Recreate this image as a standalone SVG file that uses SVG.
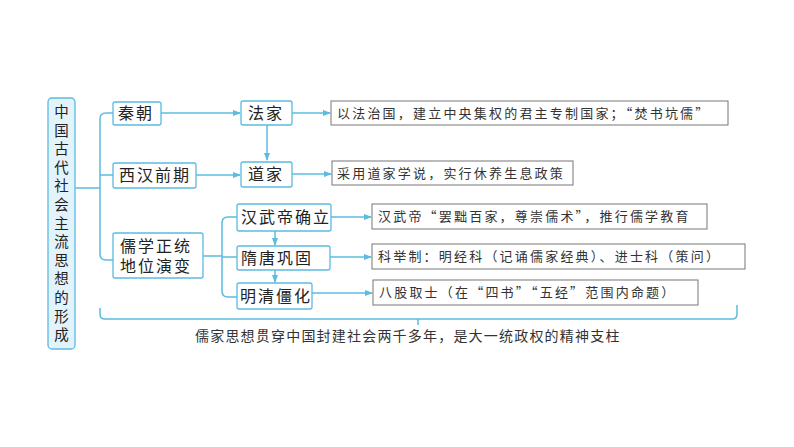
<svg xmlns="http://www.w3.org/2000/svg" width="794" height="447" viewBox="0 0 794 447">
<style>
.n{fill:#fff;stroke:#5bbbe0;stroke-width:1.3}
.g{fill:#fff;stroke:#777;stroke-width:1}
.t{font-family:"Noto Sans CJK SC",sans-serif;font-size:16px;fill:#222;letter-spacing:2px}
.v{font-family:"Noto Sans CJK SC",sans-serif;font-size:14.5px;fill:#222}
.s{font-family:"Noto Sans CJK SC",sans-serif;font-size:13px;fill:#333;letter-spacing:2.2px}
.c{fill:none;stroke:#5bbbe0;stroke-width:1.5}
</style>
<defs><marker id="a" markerWidth="8" markerHeight="8" refX="7" refY="4" orient="auto" markerUnits="userSpaceOnUse"><path d="M0,1 L8,4 L0,7 Z" fill="#5bbbe0"/></marker></defs>
<rect width="794" height="447" fill="#fff"/>
<g id="connectors">
<path class="c" d="M75,188 H100 M106,113 H113 M100,119 Q100,113 106,113 M100,119 V254 Q100,260 106,260 H113 M100,175 H113"/>
<path class="c" d="M203,256 H222 M228,217 H237 M222,223 Q222,217 228,217 M222,223 V291 Q222,297 228,297 H237 M222,257 H237"/>
<path class="c" marker-end="url(#a)" d="M161,113 H240"/>
<path class="c" marker-end="url(#a)" d="M292,113 H330"/>
<path class="c" marker-end="url(#a)" d="M196,175 H240"/>
<path class="c" marker-end="url(#a)" d="M292,174 H331"/>
<path class="c" marker-end="url(#a)" d="M267,125 V160"/>
<path class="c" marker-end="url(#a)" d="M331,217 H371"/>
<path class="c" marker-end="url(#a)" d="M330,257 H371"/>
<path class="c" marker-end="url(#a)" d="M312,293 H372"/>
<path class="c" marker-end="url(#a)" d="M275,231 V245"/>
<path class="c" marker-end="url(#a)" d="M275,270 V282"/>
<path class="c" d="M100,308 V314 Q100,319 105,319 H732 Q737,319 737,314 V305 M418,319 V325"/>
</g>
<g id="root"><rect x="48" y="98" width="27" height="251" rx="4" fill="#e3f3fb" stroke="#5bbbe0" stroke-width="1.3"/>
<text class="v" x="61.5" y="117" text-anchor="middle"><tspan x="61.5">中</tspan><tspan x="61.5" dy="18.6">国</tspan><tspan x="61.5" dy="18.6">古</tspan><tspan x="61.5" dy="18.6">代</tspan><tspan x="61.5" dy="18.6">社</tspan><tspan x="61.5" dy="18.6">会</tspan><tspan x="61.5" dy="18.6">主</tspan><tspan x="61.5" dy="18.6">流</tspan><tspan x="61.5" dy="18.6">思</tspan><tspan x="61.5" dy="18.6">想</tspan><tspan x="61.5" dy="18.6">的</tspan><tspan x="61.5" dy="18.6">形</tspan><tspan x="61.5" dy="18.6">成</tspan></text></g>
<g id="qin"><rect class="n" x="113" y="102" width="48" height="23" rx="2"/><text class="t" x="118" y="119">秦朝</text></g>
<g id="fajia"><rect class="n" x="241" y="101" width="51" height="24" rx="2"/><text class="t" x="248" y="119">法家</text></g>
<g id="xihan"><rect class="n" x="113" y="163" width="83" height="25" rx="2"/><text class="t" x="119" y="181">西汉前期</text></g>
<g id="daojia"><rect class="n" x="241" y="162" width="51" height="25" rx="2"/><text class="t" x="248" y="180">道家</text></g>
<g id="ruxue"><rect class="n" x="113" y="233" width="90" height="45" rx="2"/><text class="t" x="120" y="252">儒学正统</text><text class="t" x="120" y="272">地位演变</text></g>
<g id="hanwu"><rect class="n" x="237" y="204" width="94" height="27" rx="2"/><text class="t" x="241" y="223">汉武帝确立</text></g>
<g id="suitang"><rect class="n" x="237" y="246" width="93" height="24" rx="2"/><text class="t" x="241" y="264">隋唐巩固</text></g>
<g id="mingqing"><rect class="n" x="237" y="283" width="75" height="26" rx="2"/><text class="t" x="240" y="302">明清僵化</text></g>
<g id="d1"><rect class="g" x="331" y="101" width="397" height="24"/><text class="s" x="337" y="118">以法治国，建立中央集权的君主专制国家；“焚书坑儒”</text></g>
<g id="d2"><rect class="g" x="332" y="161" width="241" height="24"/><text class="s" x="337" y="178">采用道家学说，实行休养生息政策</text></g>
<g id="d3"><rect class="g" x="372" y="204" width="335" height="25"/><text class="s" x="378" y="221">汉武帝“罢黜百家，尊崇儒术”，推行儒学教育</text></g>
<g id="d4"><rect class="g" x="372" y="244" width="373" height="25"/><text class="s" x="378" y="261">科举制：明经科（记诵儒家经典）、进士科（策问）</text></g>
<g id="d5"><rect class="g" x="373" y="280" width="325" height="25"/><text class="s" x="379" y="297">八股取士（在“四书”“五经”范围内命题）</text></g>
<g id="summary"><text class="s" x="195" y="341" style="font-size:14px;letter-spacing:1.2px">儒家思想贯穿中国封建社会两千多年，是大一统政权的精神支柱</text></g>
</svg>
